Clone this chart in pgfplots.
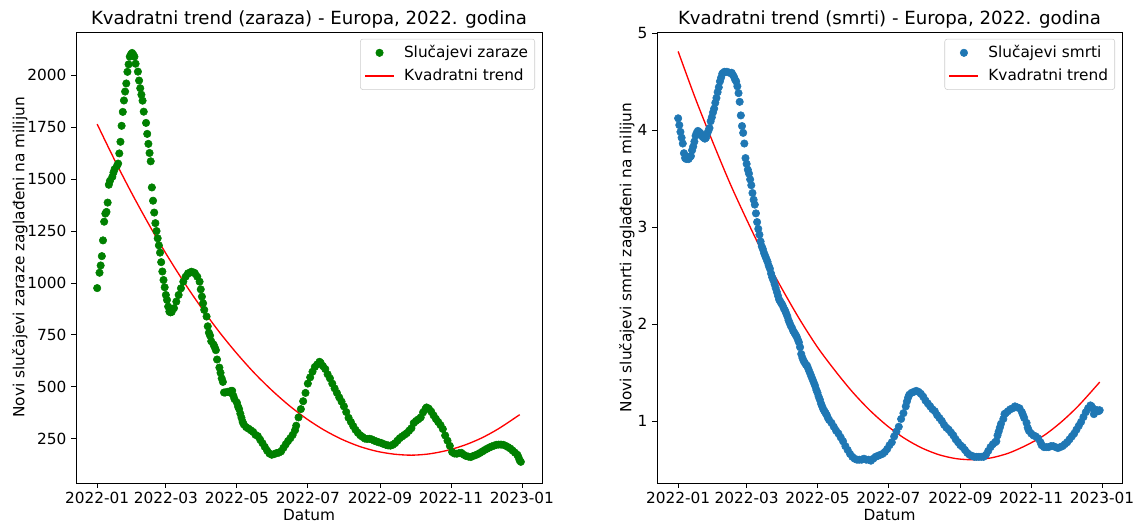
\documentclass[border=0pt]{standalone}
\usepackage{fontspec}
\setmainfont{DejaVu Sans}
\usepackage{pgfplots}
\pgfplotsset{compat=1.18}
\definecolor{mplgreen}{HTML}{008000}
\definecolor{mplblue}{HTML}{1F77B4}

\pgfplotsset{
  covid/.style={
    scale only axis,
    height=338.25pt,
    xmin=-18.2, xmax=382.2,
    xtick={0,59,120,181,243,304,365},
    xticklabels={2022-01,2022-03,2022-05,2022-07,2022-09,2022-11,2023-01},
    tick pos=left,
    tick align=outside,
    major tick length=3.6pt,
    tick style={black, line width=0.6pt},
    axis line style={line width=0.6pt},
    tick label style={font=\fontsize{11.5}{13}\selectfont},
    label style={font=\fontsize{11.5}{13}\selectfont},
    title style={font=\fontsize{13.6}{16}\selectfont, yshift=-7pt},
    xlabel style={yshift=3pt},
    /pgf/number format/assume math mode=true,
    /pgf/number format/1000 sep={},
    xlabel={Datum},
    legend cell align=left,
    legend style={at={(0.985,0.985)}, anchor=north east, draw=black!20,
      rounded corners=2pt, font=\fontsize{11.5}{13}\selectfont,
      row sep=3pt, column sep=5pt, inner xsep=3pt, inner ysep=3pt},
  },
  dots/.style={only marks, mark=*, mark size=2.8pt,
    legend image code/.code={\path (0pt,0pt) (21.75pt,0pt); \draw[##1] plot coordinates {(10.9pt,0pt)};}},
  trend/.style={red, line width=1pt, smooth,
    legend image code/.code={\draw[##1] (0pt,0pt) -- (21.75pt,0pt);}},
}

\begin{document}
\begin{tikzpicture}
% zaraze
\begin{axis}[covid,
  at={(0pt,0pt)}, anchor=south west,
  width=349.5pt,
  ymin=36, ymax=2209,
  ytick={250,500,750,1000,1250,1500,1750,2000},
  title={Kvadratni trend (zaraza) - Europa, 2022. godina},
  ylabel={Novi slučajevi zaraze zaglađeni na milijun},
  ylabel style={yshift=-7pt},
]
\addplot[dots, color=mplgreen] coordinates {
(0,975) (2,1049) (3,1084) (4,1129) (5,1205) (6,1295) (7,1334) (8,1342) (9,1387)
(10,1473) (11,1492) (13,1511) (14,1532) (15,1548) (17,1564) (18,1575) (19,1624)
(20,1680) (21,1757) (22,1824) (23,1879) (24,1922) (25,1961) (26,2017) (27,2053)
(28,2090) (29,2101) (30,2108) (31,2100) (32,2090) (33,2056) (35,2018) (36,1975)
(37,1938) (38,1907) (39,1878) (40,1825) (42,1771) (43,1718) (44,1670) (45,1626)
(46,1586) (47,1460) (48,1396) (49,1339) (50,1288) (51,1250) (52,1215) (53,1181)
(54,1146) (55,1100) (56,1055) (57,1014) (58,979) (59,942) (60,918) (61,886)
(62,862) (63,858) (64,860) (66,878) (68,910) (70,942) (72,974) (74,1006)
(76,1030) (78,1046) (80,1050) (81,1054) (83,1050) (84,1046) (86,1030) (88,1006)
(89,969) (90,934) (91,902) (92,870) (94,838) (95,791) (96,760) (97,746) (98,719)
(100,703) (101,690) (102,676) (103,631) (105,592) (106,567) (107,540) (108,523)
(109,472) (110,472) (112,475) (114,472) (115,480) (116,480) (117,456) (118,440)
(120,424) (121,405) (122,392) (123,370) (124,350) (125,330) (126,318) (128,305)
(130,298) (132,290) (134,282) (136,268) (138,262) (140,245) (142,228) (144,210)
(146,192) (148,178) (150,172) (152,175) (154,180) (156,182) (158,188) (160,205)
(162,222) (164,238) (166,252) (168,268) (170,290) (171,312) (173,352) (175,392)
(177,430) (179,470) (181,515) (183,545) (185,572) (187,595) (189,607) (191,620)
(192,615) (194,599) (196,585) (198,560) (200,540) (202,515) (204,492) (206,470)
(208,448) (210,428) (212,405) (214,378) (216,350) (218,330) (220,310) (222,292)
(224,278) (226,266) (228,258) (230,250) (232,248) (234,249) (236,246) (238,240)
(240,236) (242,232) (244,229) (246,224) (248,220) (250,217) (252,216) (254,220)
(256,228) (258,240) (260,252) (262,260) (264,268) (266,276) (268,288) (270,300)
(272,325) (274,335) (276,343) (278,352) (280,376) (282,392) (283,400) (285,394)
(287,380) (289,362) (291,345) (293,330) (295,315) (297,296) (299,265) (301,240)
(303,215) (305,185) (307,178) (309,177) (311,180) (313,181) (315,172) (317,166)
(319,163) (321,161) (323,166) (325,170) (327,175) (329,181) (331,188) (333,195)
(335,201) (337,207) (339,212) (341,216) (343,220) (345,221) (347,221) (349,220)
(351,215) (353,209) (355,202) (357,192) (359,182) (361,172) (362,160) (363,145)
(364,138)
};
\addlegendentry{Slučajevi zaraze}
\addplot[trend] coordinates {
(0,1765) (15,1592) (30,1429) (45,1276) (60,1133) (75,1000) (90,877) (105,763)
(120,660) (135,566) (150,483) (165,409) (180,345) (195,291) (210,247) (225,213)
(240,189) (255,175) (270,170) (285,176) (300,192) (315,217) (330,252) (345,298)
(363,365)
};
\addlegendentry{Kvadratni trend}
\end{axis}

% smrti
\begin{axis}[covid,
  at={(435.75pt,0pt)}, anchor=south west,
  width=348.75pt,
  ymin=0.36, ymax=5.01,
  ytick={1,2,3,4,5},
  title={Kvadratni trend (smrti) - Europa, 2022. godina},
  ylabel={Novi slučajevi smrti zaglađeni na milijun},
  ylabel style={yshift=-4.5pt},
]
\addplot[dots, color=mplblue] coordinates {
(0,4.12) (1,4.05) (2,3.98) (3,3.92) (4,3.86) (5,3.76) (6,3.71) (7,3.70) (8,3.72)
(9,3.70) (10,3.72) (11,3.73) (12,3.79) (13,3.83) (14,3.88) (15,3.94) (16,3.97)
(17,3.99) (18,3.98) (19,3.97) (20,3.95) (21,3.93) (22,3.92) (23,3.91) (24,3.92)
(25,3.96) (26,3.99) (27,4.02) (28,4.09) (29,4.13) (30,4.18) (31,4.22) (32,4.28)
(33,4.33) (34,4.39) (35,4.44) (36,4.50) (37,4.54) (38,4.58) (39,4.59) (40,4.60)
(42,4.60) (44,4.59) (46,4.59) (47,4.57) (48,4.55) (49,4.52) (50,4.50) (51,4.45)
(52,4.38) (53,4.29) (54,4.15) (55,4.04) (56,3.97) (57,3.86) (58,3.71) (59,3.65)
(60,3.59) (61,3.55) (62,3.49) (63,3.43) (64,3.35) (65,3.28) (66,3.23) (67,3.14)
(68,3.05) (69,2.98) (70,2.92) (71,2.85) (72,2.80) (73,2.77) (74,2.73) (75,2.70)
(76,2.67) (77,2.64) (78,2.60) (79,2.57) (80,2.52) (81,2.48) (82,2.45) (83,2.41)
(84,2.37) (85,2.33) (86,2.29) (87,2.25) (88,2.23) (89,2.21) (90,2.19) (91,2.16)
(92,2.14) (93,2.11) (94,2.08) (95,2.04) (96,2.01) (97,1.98) (98,1.96) (99,1.93)
(100,1.91) (101,1.89) (102,1.87) (103,1.84) (104,1.81) (105,1.76) (106,1.69)
(107,1.65) (108,1.62) (109,1.60) (110,1.58) (111,1.57) (112,1.54) (113,1.51)
(114,1.48) (115,1.45) (116,1.42) (117,1.39) (118,1.36) (119,1.32) (120,1.29)
(121,1.25) (122,1.22) (123,1.18) (124,1.15) (125,1.12) (126,1.10) (127,1.08)
(128,1.06) (129,1.03) (130,1.01) (132,0.98) (134,0.94) (136,0.90) (138,0.87)
(140,0.83) (142,0.79) (144,0.74) (146,0.70) (148,0.66) (150,0.63) (152,0.61)
(154,0.60) (156,0.60) (158,0.60) (160,0.61) (162,0.60) (164,0.60) (166,0.59)
(168,0.61) (170,0.63) (172,0.64) (174,0.65) (176,0.66) (178,0.68) (180,0.71)
(182,0.75) (184,0.78) (186,0.84) (188,0.89) (190,0.94) (192,1.02) (194,1.08)
(196,1.15) (197,1.20) (198,1.24) (199,1.27) (201,1.29) (203,1.30) (205,1.31)
(207,1.30) (209,1.28) (211,1.25) (213,1.21) (215,1.18) (217,1.15) (219,1.12)
(221,1.10) (223,1.06) (225,1.03) (227,1.00) (229,0.96) (231,0.93) (233,0.91)
(235,0.88) (237,0.85) (239,0.81) (241,0.78) (243,0.75) (245,0.73) (247,0.70)
(249,0.67) (251,0.65) (253,0.64) (255,0.63) (257,0.63) (259,0.63) (261,0.63)
(263,0.63) (265,0.65) (267,0.69) (269,0.73) (271,0.76) (273,0.78) (274,0.79)
(275,0.85) (276,0.89) (277,0.93) (278,0.97) (280,1.02) (281,1.07) (282,1.08)
(284,1.10) (286,1.12) (288,1.13) (290,1.15) (292,1.14) (294,1.13) (296,1.09)
(297,1.06) (298,1.03) (300,0.98) (301,0.93) (302,0.90) (304,0.87) (306,0.85)
(308,0.84) (310,0.82) (312,0.78) (313,0.75) (315,0.73) (317,0.73) (319,0.73)
(321,0.74) (323,0.74) (325,0.73) (327,0.72) (329,0.73) (331,0.74) (333,0.76)
(335,0.78) (337,0.81) (339,0.84) (341,0.87) (343,0.91) (345,0.95) (347,0.99)
(349,1.04) (351,1.09) (353,1.13) (355,1.16) (356,1.15) (357,1.13) (358,1.07)
(359,1.10) (360,1.11) (361,1.11) (362,1.10) (363,1.11)
};
\addlegendentry{Slučajevi smrti}
\addplot[trend] coordinates {
(0,4.81) (15,4.32) (30,3.87) (45,3.44) (60,3.05) (75,2.68) (90,2.35) (105,2.04)
(120,1.76) (135,1.52) (150,1.30) (165,1.11) (180,0.95) (195,0.82) (210,0.72)
(225,0.65) (240,0.61) (255,0.60) (270,0.62) (285,0.67) (300,0.75) (315,0.85)
(330,0.99) (345,1.16) (363,1.40)
};
\addlegendentry{Kvadratni trend}
\end{axis}
\pgfresetboundingbox
\path[use as bounding box] (-57pt,-30pt) rectangle (792.75pt,362.25pt);
\end{tikzpicture}
\end{document}
